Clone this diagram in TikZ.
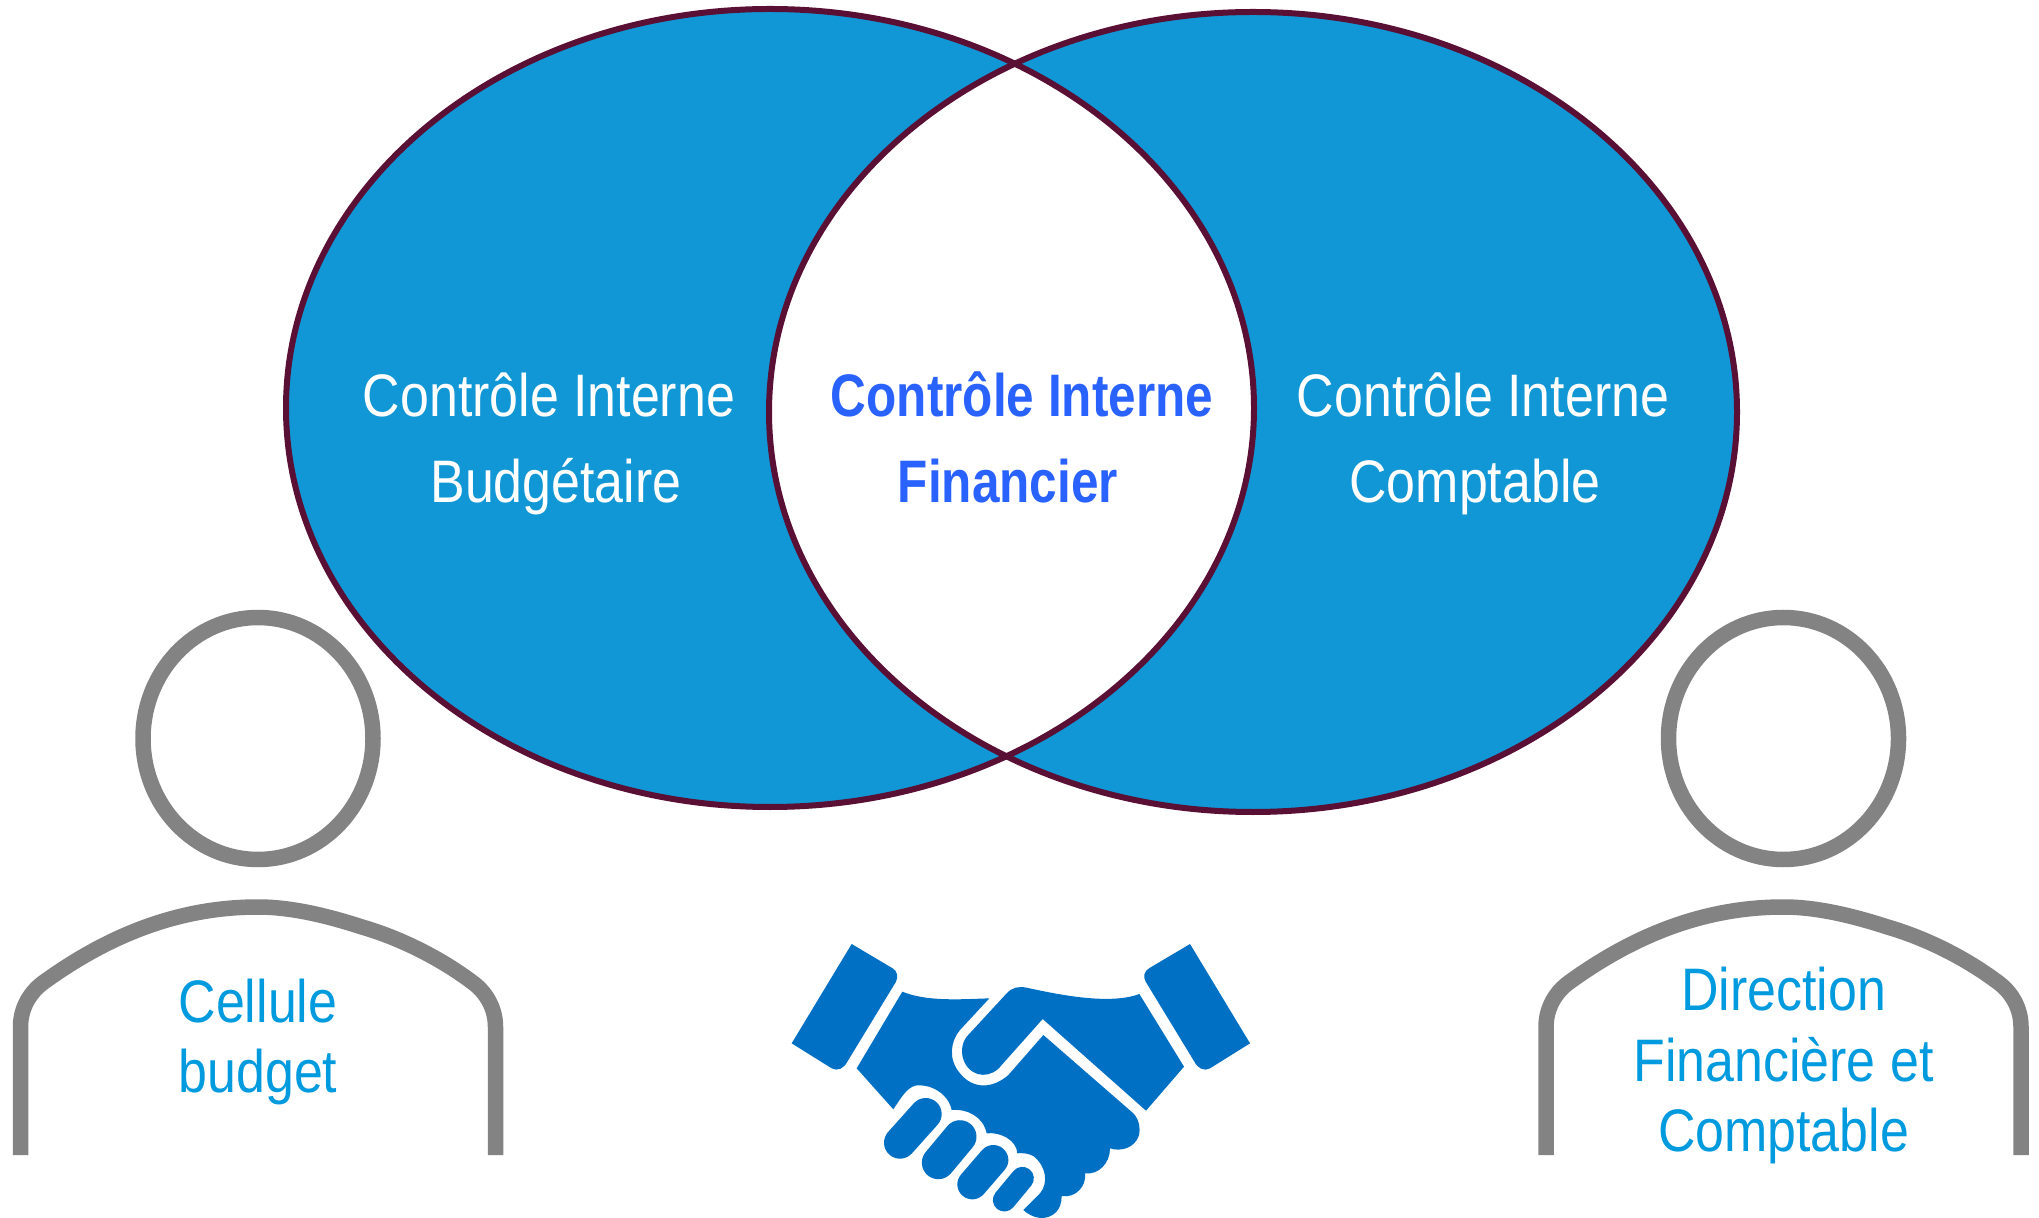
\documentclass[tikz,border=0pt]{standalone}
\usepackage{fontspec}
\setmainfont{Liberation Sans}
\newfontfamily\condf[FakeStretch=0.865]{Liberation Sans}
\newfontfamily\condb[FakeStretch=0.825]{Liberation Sans Bold}
\definecolor{vennblue}{HTML}{1197D5}
\definecolor{vennline}{HTML}{5A0F35}
\definecolor{titleblue}{HTML}{2962FF}
\definecolor{labelblue}{HTML}{009ADE}
\definecolor{persongrey}{HTML}{838383}
\definecolor{shakeblue}{HTML}{0070C5}
\tikzset{
  venntext/.style={anchor=base,inner sep=0pt,text=white,font=\condf\fontsize{30}{36}\selectfont},
  venntitle/.style={anchor=base,inner sep=0pt,text=titleblue,font=\condb\fontsize{30}{36}\selectfont},
  personlabel/.style={anchor=base,inner sep=0pt,text=labelblue,font=\condf\fontsize{30}{36}\selectfont},
  personline/.style={draw=persongrey,line width=7.75pt},
  vennedge/.style={draw=vennline,line width=3pt},
  finger/.style={draw=shakeblue,line cap=round},
}
\newcommand{\personshape}[1]{%
  \begin{scope}[shift={(#1,0)}]
    \draw[personline] (258,738.5) ellipse [x radius=115,y radius=121];
    \draw[personline] (20.5,1155) -- (20.5,1027)
      .. controls (20.5,1008) and (30,992) .. (44,982)
      .. controls (105,938) and (175,907) .. (258,907)
      .. controls (290,907) and (325,915) .. (362,927)
      .. controls (400,938) and (440,958) .. (472,982)
      .. controls (486,992) and (495.5,1008) .. (495.5,1027) -- (495.5,1155);
  \end{scope}}
\begin{document}
\begin{tikzpicture}[x=0.5pt,y=-0.5pt]
\useasboundingbox (0,0) rectangle (2039,1218);
\fill[white] (0,0) rectangle (2039,1218);
% Venn
\fill[vennblue] (770,408) ellipse [x radius=484,y radius=399];
\fill[vennblue] (1253,412) ellipse [x radius=484,y radius=400];
\begin{scope}
  \clip (770,408) ellipse [x radius=484,y radius=399];
  \fill[white] (1253,412) ellipse [x radius=484,y radius=400];
\end{scope}
\draw[vennedge] (770,408) ellipse [x radius=484,y radius=399];
\draw[vennedge] (1253,412) ellipse [x radius=484,y radius=400];
\node[venntext] (cib1) at (549,417) {Contrôle Interne};
\node[venntext] (cib2) at (556,502.5) {Budgétaire};
\node[venntitle] (cif1) at (1022,417) {Contrôle Interne};
\node[venntitle] (cif2) at (1008,502.5) {Financier};
\node[venntext] (cic1) at (1483,417) {Contrôle Interne};
\node[venntext] (cic2) at (1475,502.5) {Comptable};
% Persons
\personshape{0}
\personshape{1525.5}
\node[personlabel] (cb1) at (258,1022) {Cellule};
\node[personlabel] (cb2) at (258,1092) {budget};
\node[personlabel] (df1) at (1783.5,1010.5) {Direction};
\node[personlabel] (df2) at (1783.5,1081) {Financière et};
\node[personlabel] (df3) at (1783.5,1151.5) {Comptable};
% Handshake
\begin{scope}[shift={(760,920)},x=0.16667pt,y=-0.16667pt]
  \fill[shakeblue] (275,72) -- (398,145) .. controls (412,153) and (415,170) .. (408,185)
    -- (262,425) .. controls (252,445) and (232,455) .. (215,445) -- (95,370) -- cycle;
  \fill[shakeblue] (1290,72) -- (1167,145) .. controls (1153,153) and (1148,170) .. (1157,185)
    -- (1303,425) .. controls (1313,445) and (1333,455) .. (1350,445) -- (1470,370) -- cycle;
  \fill[shakeblue] (1138,222) -- (1272,440) -- (1158,572) -- (848,297) -- (725,435)
    .. controls (695,475) and (640,475) .. (615,430)
    .. controls (600,400) and (605,370) .. (620,350)
    -- (740,220) .. controls (755,203) and (775,198) .. (800,203)
    .. controls (900,225) and (1050,255) .. (1138,222) -- cycle;
  \fill[shakeblue] (427,215) .. controls (500,245) and (600,238) .. (688,235)
    -- (600,330) .. controls (570,365) and (565,420) .. (600,460)
    .. controls (640,510) and (700,505) .. (745,465)
    -- (850,345) -- (1120,580)
    .. controls (1140,600) and (1145,640) .. (1130,660)
    .. controls (1115,685) and (1080,695) .. (1050,685)
    .. controls (1050,730) and (1015,765) .. (975,760)
    .. controls (980,800) and (945,835) .. (905,828)
    .. controls (905,870) and (880,895) .. (840,894)
    .. controls (820,892) and (800,880) .. (790,870)
    -- (840,820) .. controls (865,790) and (860,740) .. (820,708)
    .. controls (805,700) and (785,698) .. (772,700)
    .. controls (770,660) and (720,635) .. (680,640)
    .. controls (670,590) and (620,565) .. (575,570)
    .. controls (565,520) and (510,490) .. (465,497)
    .. controls (440,505) and (425,530) .. (400,568)
    -- (290,445) -- cycle;
  \draw[finger,line width=16pt] (420,668) -- (497,582);
  \draw[finger,line width=16.5pt] (535,728) -- (600,650);
  \draw[finger,line width=15pt] (637,793) -- (700,720);
  \draw[finger,line width=11.5pt] (733,840) -- (787,775);
\end{scope}
\end{tikzpicture}
\end{document}
